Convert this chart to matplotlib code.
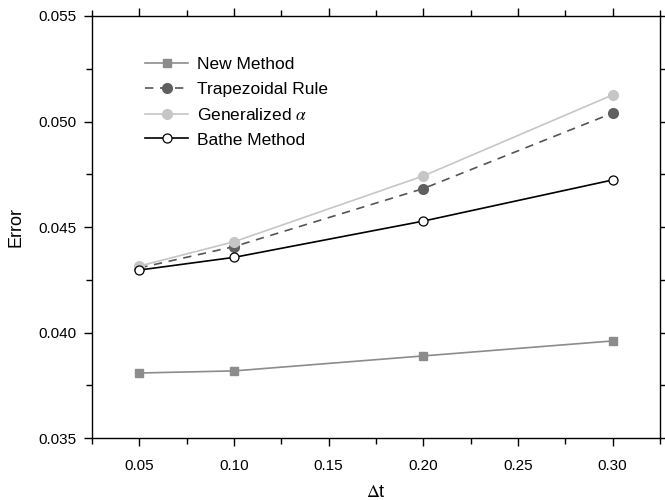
import numpy as np
import matplotlib
matplotlib.use("Agg")
import matplotlib.pyplot as plt
from matplotlib.ticker import MultipleLocator, FormatStrFormatter

plt.rcParams['font.family'] = ['Liberation Sans', 'DejaVu Sans']
plt.rcParams['mathtext.fontset'] = 'stix'

# data
dt = [0.05, 0.10, 0.20, 0.30]
new_method = [0.03808, 0.03818, 0.03889, 0.03960]
trapezoidal = [0.04306, 0.04407, 0.04682, 0.05040]
gen_alpha = [0.04315, 0.04430, 0.04742, 0.05126]
bathe = [0.04296, 0.04356, 0.04528, 0.04723]

fig = plt.figure(figsize=(6.65, 5.0), dpi=100)
ax = fig.add_axes([0.1383, 0.124, 0.8542, 0.844])

ax.plot(dt, new_method, color="#8c8c8c", lw=1.2, marker="s", ms=6,
        mfc="#8c8c8c", mec="#8c8c8c", label="New Method")
ax.plot(dt, trapezoidal, color="#555555", lw=1.2, ls=(0, (5, 4)), marker="o", ms=7,
        mfc="#606060", mec="#606060", label="Trapezoidal Rule")
ax.plot(dt, gen_alpha, color="#c6c6c6", lw=1.2, marker="o", ms=7,
        mfc="#c6c6c6", mec="#c6c6c6", label=r"Generalized $\alpha$")
ax.plot(dt, bathe, color="black", lw=1.2, marker="o", ms=6.5,
        mfc="white", mec="black", mew=0.9, label="Bathe Method")

ax.set_xlim(0.025, 0.325)
ax.set_ylim(0.035, 0.055)
ax.xaxis.set_major_locator(MultipleLocator(0.05))
ax.xaxis.set_minor_locator(MultipleLocator(0.025))
ax.yaxis.set_major_locator(MultipleLocator(0.005))
ax.yaxis.set_minor_locator(MultipleLocator(0.0025))
ax.xaxis.set_major_formatter(FormatStrFormatter("%.2f"))
ax.yaxis.set_major_formatter(FormatStrFormatter("%.3f"))

ax.tick_params(which="both", direction="out", top=True, right=True,
               labelsize=11, width=1.0)
ax.tick_params(axis="x", pad=9)
ax.tick_params(axis="y", pad=5)
ax.tick_params(which="major", length=6)
ax.tick_params(which="minor", length=4)
for s in ax.spines.values():
    s.set_linewidth(1.0)

ax.set_xlabel(r"$\Delta$t", fontsize=13, labelpad=8)
ax.set_ylabel("Error", fontsize=13, labelpad=10)

ax.legend(loc="upper left", bbox_to_anchor=(0.066, 0.94), frameon=False,
          fontsize=12.5, handlelength=2.5, handletextpad=0.5, labelspacing=0.56)

fig.savefig("out.png", dpi=100)
